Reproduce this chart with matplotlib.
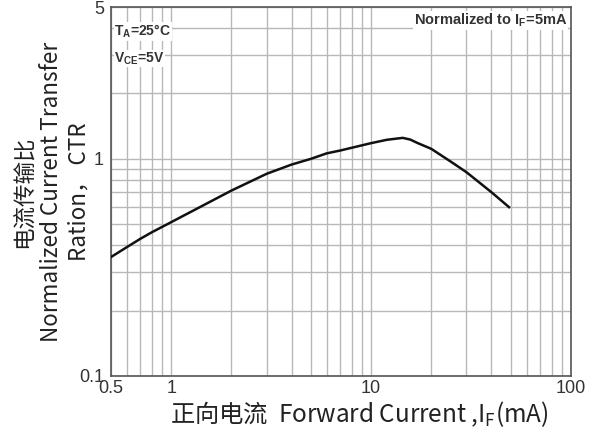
import matplotlib
matplotlib.use("Agg")
import matplotlib.pyplot as plt
from matplotlib.ticker import FixedLocator, NullFormatter, FixedFormatter

plt.rcParams['font.family'] = ['Noto Sans CJK SC', 'DejaVu Sans']

forward_current = [0.5, 0.6, 0.7, 0.8, 1, 2, 3, 4, 5, 6, 7, 10, 12, 14.4, 15.7, 17, 20, 25, 30, 40, 49]
ctr = [0.353, 0.392, 0.428, 0.459, 0.511, 0.714, 0.853, 0.941, 1.0, 1.06, 1.092, 1.181, 1.224,
       1.249, 1.227, 1.185, 1.112, 0.972, 0.868, 0.702, 0.599]

x_ticks = [0.5, 1, 10, 100]
x_ticklabels = ["0.5", "1", "10", "100"]
y_ticks = [0.1, 1, 5]
y_ticklabels = ["0.1", "1", "5"]

fig = plt.figure(figsize=(5.92, 4.41), dpi=100)
ax = fig.add_axes([0.1875, 0.1474, 0.777, 0.8366])
ax.set_xscale('log')
ax.set_yscale('log')
ax.set_xlim(0.5, 100)
ax.set_ylim(0.1, 5)

xminor = [v * d for d in (0.1, 1, 10) for v in range(2, 10) if 0.5 < v * d < 100]
yminor = [v * d for d in (0.1, 1) for v in range(2, 10) if 0.1 < v * d < 5]
ax.xaxis.set_major_locator(FixedLocator(x_ticks))
ax.xaxis.set_major_formatter(FixedFormatter(x_ticklabels))
ax.xaxis.set_minor_locator(FixedLocator(xminor))
ax.xaxis.set_minor_formatter(NullFormatter())
ax.yaxis.set_major_locator(FixedLocator(y_ticks))
ax.yaxis.set_major_formatter(FixedFormatter(y_ticklabels))
ax.yaxis.set_minor_locator(FixedLocator(yminor))
ax.yaxis.set_minor_formatter(NullFormatter())

ax.grid(True, which='both', color='#b8b8b8', linewidth=1.0)
ax.set_axisbelow(True)
ax.tick_params(which='both', length=0, labelsize=13, colors='#333333',
               labelfontfamily='Liberation Sans')
ax.tick_params(axis='x', pad=3)
ax.tick_params(axis='y', pad=5)
for s in ax.spines.values():
    s.set_color('#555555')
    s.set_linewidth(1.2)

ax.plot(forward_current, ctr, color='#111111', linewidth=1.8, zorder=3)

bbox = dict(facecolor='white', edgecolor='none', pad=0.5)
fam = ['Liberation Sans', 'DejaVu Sans']
ax.text(0.52, 3.85, 'T$_\\mathregular{A}$=25°C', fontsize=10, fontweight='bold',
        family=fam, color='#333333', va='center', ha='left', bbox=bbox)
ax.text(0.52, 2.9, 'V$_\\mathregular{CE}$=5V', fontsize=10, fontweight='bold',
        family=fam, color='#333333', va='center', ha='left', bbox=bbox)
ax.text(96, 4.35, 'Normalized to I$_\\mathregular{F}$=5mA', fontsize=10.5, fontweight='bold',
        family=fam, color='#333333', va='center', ha='right', bbox=bbox)

ax.set_xlabel('正向电流  Forward Current ,I$_\\mathregular{F}$(mA)', fontsize=17.5, color='#222222',
              va='top', ha='center')
ax.xaxis.set_label_coords(0.54, -0.063)
ax.set_ylabel('电流传输比\nNormalized Current Transfer\nRation， CTR', fontsize=16.2, color='#222222',
              linespacing=1.25)
ax.yaxis.set_label_coords(-0.045, 0.5)

fig.savefig('out.png', dpi=100)
